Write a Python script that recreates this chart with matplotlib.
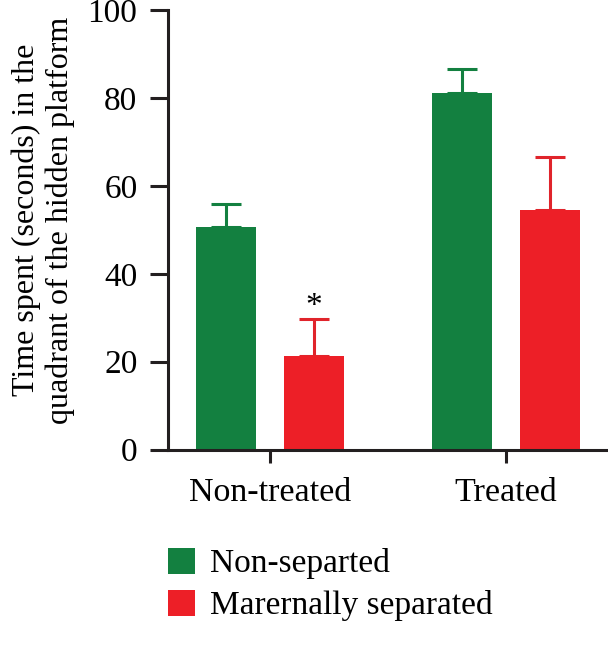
import numpy as np
import matplotlib
matplotlib.use('Agg')
import matplotlib.pyplot as plt

plt.rcParams['font.family'] = ['Liberation Serif', 'DejaVu Serif']

#%% data
groups = ['Non-treated', 'Treated']
series = ['Non-separted', 'Marernally separated']
means_nonsep = [50.7, 81.1]
err_nonsep = [5.3, 5.5]
means_sep = [21.3, 54.5]
err_sep = [8.4, 12.1]
colors = ['#138040', '#ED1F27']
ecolors = ['#138040', '#E0242B']

#%%
fig = plt.figure(figsize=(6.08, 6.53), dpi=100)
ax = fig.add_axes([0.2763, 0.3116, 0.7237, 0.6726])

x = np.arange(len(groups))
w = 0.2545
off = 0.1866
for i, (m, e) in enumerate([(means_nonsep, err_nonsep), (means_sep, err_sep)]):
    xi = x + (-off if i == 0 else off)
    ax.bar(xi, m, width=w, color=colors[i], label=series[i], zorder=2)
    ax.errorbar(xi, m, yerr=[np.zeros(len(m)), e], fmt='none', ecolor=ecolors[i],
                elinewidth=2.2, capsize=10.8, capthick=2.2, zorder=1)

# significance mark
ax.text(x[0] + off, means_sep[0] + err_sep[0] - 0.6, '*', ha='center', va='bottom',
        fontsize=24)

ax.set_xlim(-0.4327, 1.4337)
ax.set_ylim(0, 100)
ax.set_yticks([0, 20, 40, 60, 80, 100])
ax.set_xticks(x)
ax.set_xticklabels(groups)
for s in ['top', 'right']:
    ax.spines[s].set_visible(False)
for s in ['left', 'bottom']:
    ax.spines[s].set_linewidth(2.2)
    ax.spines[s].set_color('#231f20')
ax.tick_params(axis='y', length=13, width=2.2, pad=9, labelsize=24, color='#231f20')
ax.tick_params(axis='x', length=9.4, width=2.2, pad=11, labelsize=24.5, color='#231f20')

ax.set_ylabel('Time spent (seconds) in the\nquadrant of the hidden platform',
              fontsize=23, linespacing=1.2)
ax.yaxis.set_label_coords(-0.211, 0.5225)

ax.legend(loc='upper left', bbox_to_anchor=(0.277, 0.161), bbox_transform=fig.transFigure,
          frameon=False, fontsize=24, handlelength=0.81, handleheight=0.81,
          handletextpad=0.45, labelspacing=0.32, borderpad=0, borderaxespad=0)

fig.savefig('out.png', dpi=100)
